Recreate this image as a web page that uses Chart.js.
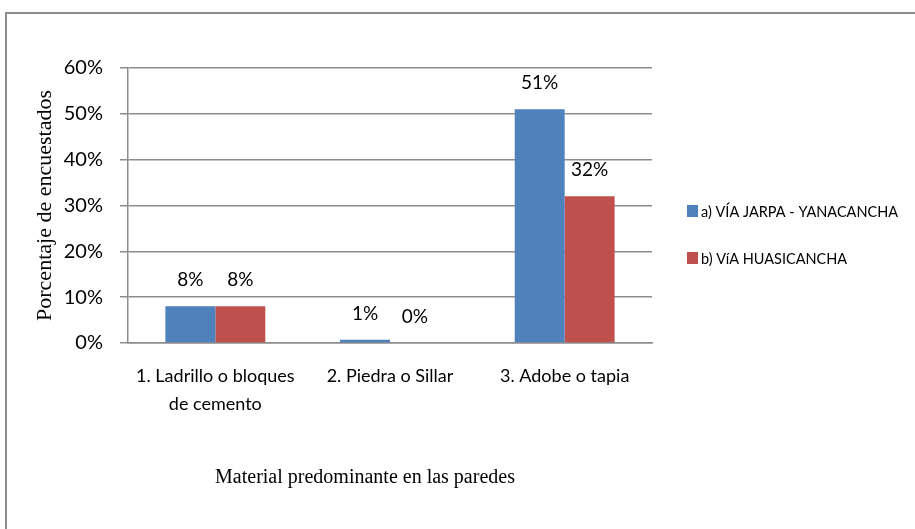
<!DOCTYPE html>
<html>
<head>
<meta charset="utf-8">
<script src="https://cdn.jsdelivr.net/npm/chart.js@4/dist/chart.umd.min.js"></script>
<style>
  html, body { margin: 0; padding: 0; background: #fff; overflow: hidden; }
  #marco { position: absolute; left: 5px; top: 12px; width: 1000px; height: 1000px;
           border-top: 2px solid #8c8c8c; border-left: 2px solid #8c8c8c; }
  #caja { position: absolute; left: 0; top: 0; width: 915px; height: 529px; }
</style>
</head>
<body>
<div id="marco"></div>
<div id="caja"><canvas id="grafico" width="915" height="529"></canvas></div>
<script>
const categorias = [['1. Ladrillo o bloques', 'de cemento'], '2. Piedra o Sillar', '3. Adobe o tapia'];
const viaJarpa = [8, 0.7, 51];
const viaHuasicancha = [8, 0, 32];
const nombresSeries = ['a) VÍA JARPA - YANACANCHA', 'b) VíA HUASICANCHA'];
const coloresSeries = ['#4f81bd', '#c0504d'];
const ticksY = [0, 10, 20, 30, 40, 50, 60];

const fuente = 'Lato, "Open Sans", sans-serif';
const serif = '"Liberation Serif", "Times New Roman", serif';
const gris = '#8c8c8c';

// etiquetas de porcentaje encima de cada barra
const etiquetas = {
  id: 'etiquetas',
  afterDatasetsDraw(chart) {
    const c = chart.ctx;
    c.save();
    c.font = '19px ' + fuente;
    c.fillStyle = '#000';
    c.textAlign = 'center';
    c.textBaseline = 'middle';
    chart.data.datasets.forEach((ds, i) => {
      chart.getDatasetMeta(i).data.forEach((barra, j) => {
        c.fillText(Math.round(ds.data[j]) + '%', barra.x, barra.y - 26);
      });
    });
    c.restore();
  }
};

// leyenda a la derecha y titulo del eje x
const extras = {
  id: 'extras',
  afterDraw(chart) {
    const c = chart.ctx;
    c.save();
    c.textBaseline = 'middle';
    c.textAlign = 'left';
    c.font = '14.5px ' + fuente;
    chart.data.datasets.forEach((ds, i) => {
      const y = 211 + i * 47;
      c.fillStyle = ds.backgroundColor;
      c.fillRect(687, y - 6, 11, 12);
      c.fillStyle = '#000';
      c.fillText(ds.label, 701, y + 1);
    });
    c.font = '20px ' + serif;
    c.textAlign = 'center';
    c.fillText('Material predominante en las paredes', 365, 478);
    c.restore();
  }
};

new Chart(document.getElementById('grafico'), {
  type: 'bar',
  data: {
    labels: categorias,
    datasets: [
      { label: nombresSeries[0], data: viaJarpa, backgroundColor: coloresSeries[0] },
      { label: nombresSeries[1], data: viaHuasicancha, backgroundColor: coloresSeries[1] }
    ]
  },
  options: {
    responsive: false,
    animation: false,
    layout: { padding: { top: 68, right: 263, bottom: 0, left: 0 } },
    datasets: { bar: { categoryPercentage: 0.572, barPercentage: 1 } },
    plugins: { legend: { display: false }, tooltip: { enabled: false } },
    scales: {
      x: {
        grid: { display: false, drawTicks: false },
        border: { display: true, color: gris, width: 1.5 },
        ticks: { color: '#000', padding: 19, maxRotation: 0, autoSkip: false,
                 font: { family: fuente, size: 18, lineHeight: 1.55 } },
        afterFit(s) { s.height = 186; }
      },
      y: {
        min: 0,
        max: 60,
        afterBuildTicks(s) { s.ticks = ticksY.map(v => ({ value: v })); },
        grid: { color: gris, lineWidth: 1.5, tickLength: 8 },
        border: { display: true, color: gris, width: 1.5 },
        ticks: { color: '#000', padding: 17, callback: v => v + '%',
                 font: { family: fuente, size: 20 } },
        title: { display: true, text: 'Porcentaje de encuestados', color: '#000',
                 padding: { top: 32, bottom: 0 }, font: { family: serif, size: 22 } },
        afterFit(s) { s.width = 128; }
      }
    }
  },
  plugins: [etiquetas, extras]
});
</script>
</body>
</html>
